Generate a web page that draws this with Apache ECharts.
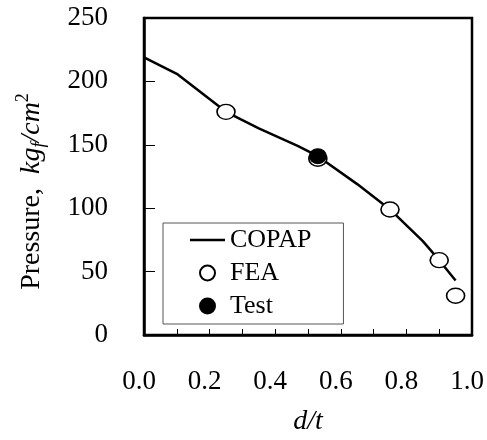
<!DOCTYPE html>
<html>
<head>
<meta charset="utf-8">
<script src="https://cdn.jsdelivr.net/npm/echarts@6/dist/echarts.min.js"></script>
<style>html,body{margin:0;padding:0;background:#fff;}#c{width:487px;height:440px;}</style>
</head>
<body>
<div id="c"></div>
<script>
// COPAP analytic curve
const copapX = [0.0, 0.10, 0.25, 0.35, 0.47, 0.53, 0.65, 0.75, 0.85, 0.90, 0.95];
const copapY = [219, 206, 176, 163, 149, 141, 119, 99, 74, 59, 43];
// FEA results
const feaX = [0.25, 0.53, 0.75, 0.90, 0.95];
const feaY = [176, 139, 99, 59, 31];
// Test result
const testX = [0.53];
const testY = [141];
const xTicks = [0.0, 0.2, 0.4, 0.6, 0.8, 1.0];
const yTicks = [0, 50, 100, 150, 200, 250];

const zip = (a, b) => a.map((v, i) => [v, b[i]]);
const font = '"Liberation Serif","Times New Roman",serif';

const chart = echarts.init(document.getElementById('c'), null, {renderer: 'canvas'});
chart.setOption({
  animation: false,
  backgroundColor: '#fff',
  grid: {left: 144, right: 15, top: 18, bottom: 105, show: true, borderColor: '#000', borderWidth: 2.5, containLabel: false, outerBoundsMode: 'none'},
  legend: {
    orient: 'vertical', left: 163, top: 223,
    padding: [4, 32, 5, 27],
    borderColor: '#555', borderWidth: 1,
    itemWidth: 35, itemHeight: 15, itemGap: 7,
    textStyle: {fontFamily: font, fontSize: 26, color: '#000', lineHeight: 26},
    data: [
      {name: 'COPAP', icon: 'path://M0,0H35V2.5H0Z'},
      {name: 'FEA'},
      {name: 'Test'}
    ]
  },
  xAxis: {
    type: 'value', min: 0, max: 1, interval: 0.1,
    name: 'd/t', nameLocation: 'middle', nameGap: 73,
    nameTextStyle: {fontFamily: font, fontSize: 28, fontStyle: 'italic', color: '#000'},
    axisLine: {show: true, lineStyle: {color: '#000', width: 2.5}},
    axisTick: {show: true, inside: true, length: 6, lineStyle: {color: '#000', width: 1}},
    splitLine: {show: false},
    axisLabel: {
      margin: 33, fontFamily: font, fontSize: 27, color: '#000', padding: [0, 10, 0, 0],
      formatter: v => {
        const r = Math.round(v * 10) / 10;
        return xTicks.some(t => Math.abs(t - r) < 1e-6) ? r.toFixed(1) : '';
      }
    }
  },
  yAxis: {
    type: 'value', min: 0, max: 250, interval: 50,
    name: '{n|Pressure,  }{i|kg}{sub|f}{i|/cm}{sup|2}',
    nameLocation: 'middle', nameGap: 92, nameRotate: 90,
    nameTextStyle: {
      fontFamily: font, fontSize: 28, color: '#000',
      padding: [0, 30, 0, 0],
      rich: {
        n: {fontFamily: font, fontSize: 28, color: '#000', lineHeight: 40, verticalAlign: 'middle'},
        i: {fontFamily: font, fontSize: 28, fontStyle: 'italic', color: '#000', lineHeight: 40, verticalAlign: 'middle'},
        sub: {fontFamily: font, fontSize: 18, fontStyle: 'italic', color: '#000', lineHeight: 40, verticalAlign: 'bottom', padding: [0, 0, 4, 0]},
        sup: {fontFamily: font, fontSize: 18, color: '#000', lineHeight: 40, verticalAlign: 'top', padding: [2, 0, 0, 0]}
      }
    },
    axisLine: {show: true, lineStyle: {color: '#000', width: 2.5}},
    axisTick: {show: true, inside: true, length: 11, lineStyle: {color: '#000', width: 1}},
    splitLine: {show: false},
    axisLabel: {
      margin: 36, fontFamily: font, fontSize: 27, color: '#000', padding: [10, 0, 0, 0],
      formatter: v => yTicks.includes(v) ? String(v) : ''
    }
  },
  series: [
    {
      name: 'COPAP', type: 'line', data: zip(copapX, copapY),
      symbol: 'none', lineStyle: {color: '#000', width: 2.5}, itemStyle: {color: '#000'}, z: 2
    },
    {
      name: 'FEA', type: 'scatter', data: zip(feaX, feaY),
      symbol: 'circle', symbolSize: [18, 15],
      itemStyle: {color: '#fff', borderColor: '#000', borderWidth: 1.5, opacity: 1}, z: 3
    },
    {
      name: 'Test', type: 'scatter', data: zip(testX, testY),
      symbol: 'circle', symbolSize: [17, 15],
      itemStyle: {color: '#000', borderColor: '#000', borderWidth: 1, opacity: 1}, z: 4
    }
  ]
});
</script>
</body>
</html>
